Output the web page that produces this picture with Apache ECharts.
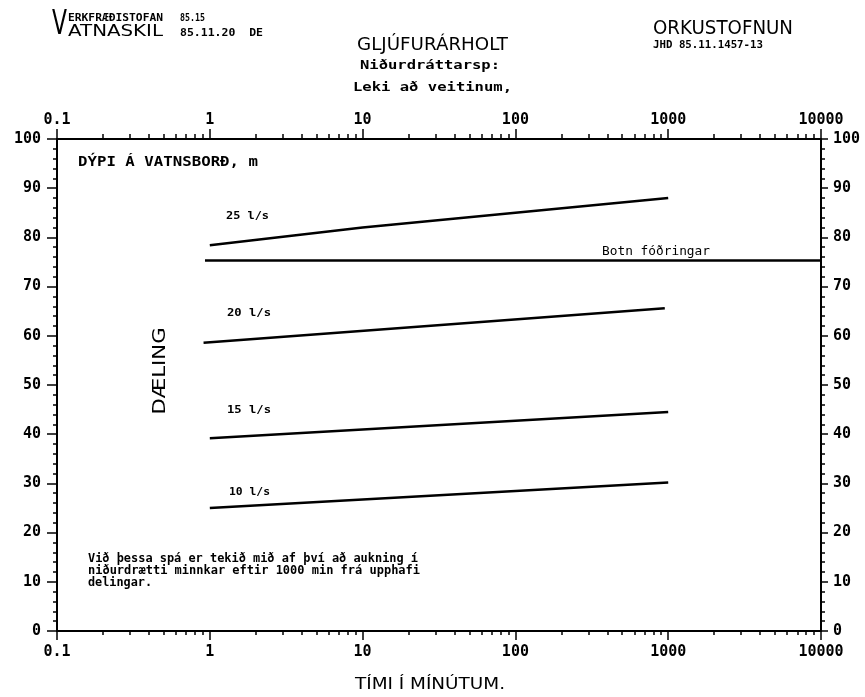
<!DOCTYPE html>
<html><head><meta charset="utf-8">
<script src="https://cdn.jsdelivr.net/npm/echarts@6/dist/echarts.min.js"></script>
<style>html,body{margin:0;padding:0;background:#fff}#c{width:865px;height:697px}</style>
</head><body><div id="c"></div>
<script>
// ---- data ----
const xTickLabels = ['0.1', '1', '10', '100', '1000', '10000'];
const yTickValues = [0, 10, 20, 30, 40, 50, 60, 70, 80, 90, 100];
const flow25 = [[1.0, 78.4], [10, 82.0], [100, 85.0], [1000, 88.0]];
const flow20 = [[0.91, 58.6], [950, 65.6]];
const flow15 = [[1.0, 39.2], [1000, 44.5]];
const flow10 = [[1.0, 25.0], [1000, 30.2]];
const botnFodringar = [[0.93, 75.3], [10000, 75.3]];
const seriesNames = ['25 l/s', '20 l/s', '15 l/s', '10 l/s', 'Botn fóðringar'];

// ---- helpers ----
const MONO = '"DejaVu Sans Mono", monospace';
const SANS = '"DejaVu Sans", sans-serif';
const cvs = document.createElement('canvas').getContext('2d');
function txt(text, x, y, font, target, opts) {
  opts = opts || {};
  cvs.font = font;
  const w = cvs.measureText(text).width;
  const sx = target ? target / w : 1;
  return {
    type: 'text', x: x, y: y, scaleX: sx, scaleY: opts.sy || 1,
    rotation: opts.rot || 0, z: 100, silent: true,
    style: { text: text, font: font, fill: '#000',
      textAlign: opts.align || 'left', textVerticalAlign: 'middle' }
  };
}

const minorLogTicks = [];
for (let d = -1; d < 4; d++) for (let k = 2; k <= 9; k++) minorLogTicks.push(Math.log10(k * Math.pow(10, d)));

const axisLabelFont = { fontFamily: MONO, fontWeight: 'bold', fontSize: 15, color: '#000' };
const lineStyle = { color: '#000', width: 2 };

function logAxis(pos, tickLen, margin) {
  return {
    type: 'log', logBase: 10, min: 0.1, max: 10000, position: pos, gridIndex: 0,
    axisLine: { show: true, onZero: false, lineStyle: lineStyle },
    axisTick: { show: true, length: tickLen, lineStyle: { color: '#000', width: 1.5 } },
    axisLabel: Object.assign({ margin: margin, formatter: (v) => xTickLabels[Math.round(Math.log10(v)) + 1] }, axisLabelFont),
    splitLine: { show: false }, minorTick: { show: false }
  };
}
function minorAxis(pos, tickLen) {
  return {
    type: 'value', min: -1, max: 4, position: pos, gridIndex: 0,
    axisLine: { show: false, onZero: false }, axisLabel: { show: false }, splitLine: { show: false },
    axisTick: { show: true, length: tickLen, customValues: minorLogTicks, lineStyle: { color: '#000', width: 1.5 } }
  };
}
function yAxis(pos, tickLen, margin) {
  return {
    type: 'value', min: 0, max: 100, interval: 10, position: pos,
    axisLine: { show: true, onZero: false, lineStyle: lineStyle },
    axisTick: { show: true, length: tickLen, lineStyle: { color: '#000', width: 1.5 } },
    minorTick: { show: true, splitNumber: 5, length: 4, lineStyle: { color: '#000', width: 1.5 } },
    axisLabel: Object.assign({ margin: margin }, axisLabelFont),
    splitLine: { show: false }
  };
}
function line(name, data) {
  return { name: name, type: 'line', xAxisIndex: 0, yAxisIndex: 0, data: data,
    showSymbol: false, symbol: 'none', lineStyle: { color: '#000', width: 2.5 }, silent: true };
}

const chart = echarts.init(document.getElementById('c'), null, { renderer: 'canvas' });
chart.setOption({
  animation: false,
  backgroundColor: '#fff',
  grid: { left: 57, right: 44, top: 139, bottom: 66, containLabel: false },
  xAxis: [logAxis('bottom', 9, 14), logAxis('top', 10, 11), minorAxis('bottom', 4), minorAxis('top', 5)],
  yAxis: [yAxis('left', 10, 16), yAxis('right', 7, 12)],
  series: [
    line(seriesNames[0], flow25), line(seriesNames[1], flow20), line(seriesNames[2], flow15),
    line(seriesNames[3], flow10), line(seriesNames[4], botnFodringar)
  ],
  graphic: [
    txt('V', 52, 25.5, '34px ' + SANS, 15),
    txt('ERKFRÆÐISTOFAN', 68, 18.5, 'bold 10px ' + MONO, 95),
    txt('ATNASKIL', 68, 32, '16px ' + SANS, 95),
    txt('85.15', 180, 18.5, 'bold 10px ' + MONO, 25),
    txt('85.11.20  DE', 180, 33.5, 'bold 10px ' + MONO, 83),
    txt('GLJÚFURÁRHOLT', 357, 46, '17px ' + SANS, 151),
    txt('Niðurdráttarsp:', 360, 66, 'bold 12px ' + MONO, 140),
    txt('Leki að veitinum,', 353, 88, 'bold 12px ' + MONO, 159),
    txt('ORKUSTOFNUN', 653, 29, '20px ' + SANS, 140),
    txt('JHD 85.11.1457-13', 653, 45, 'bold 10px ' + MONO, 110),
    txt('DÝPI Á VATNSBORÐ, m', 78, 162, 'bold 14px ' + MONO, 180),
    txt('25 l/s', 226, 216, 'bold 11px ' + MONO, 43),
    txt('20 l/s', 227, 313, 'bold 11px ' + MONO, 44),
    txt('15 l/s', 227, 410, 'bold 11px ' + MONO, 44),
    txt('10 l/s', 229, 492, 'bold 11px ' + MONO, 41),
    txt('Botn fóðringar', 602, 252, '12px ' + MONO, 108),
    txt('Við þessa spá er tekið mið af því að aukning í', 88, 559, 'bold 12px ' + MONO, 330),
    txt('niðurdrætti minnkar eftir 1000 min frá upphafi', 88, 571, 'bold 12px ' + MONO, 332),
    txt('delingar.', 88, 583, 'bold 12px ' + MONO, 64),
    txt('DÆLING', 161, 371, '17px ' + SANS, 87, { rot: Math.PI / 2, align: 'center' }),
    txt('TÍMI Í MÍNÚTUM.', 430, 685, '15px ' + SANS, 150, { align: 'center' })
  ]
});
</script></body></html>
